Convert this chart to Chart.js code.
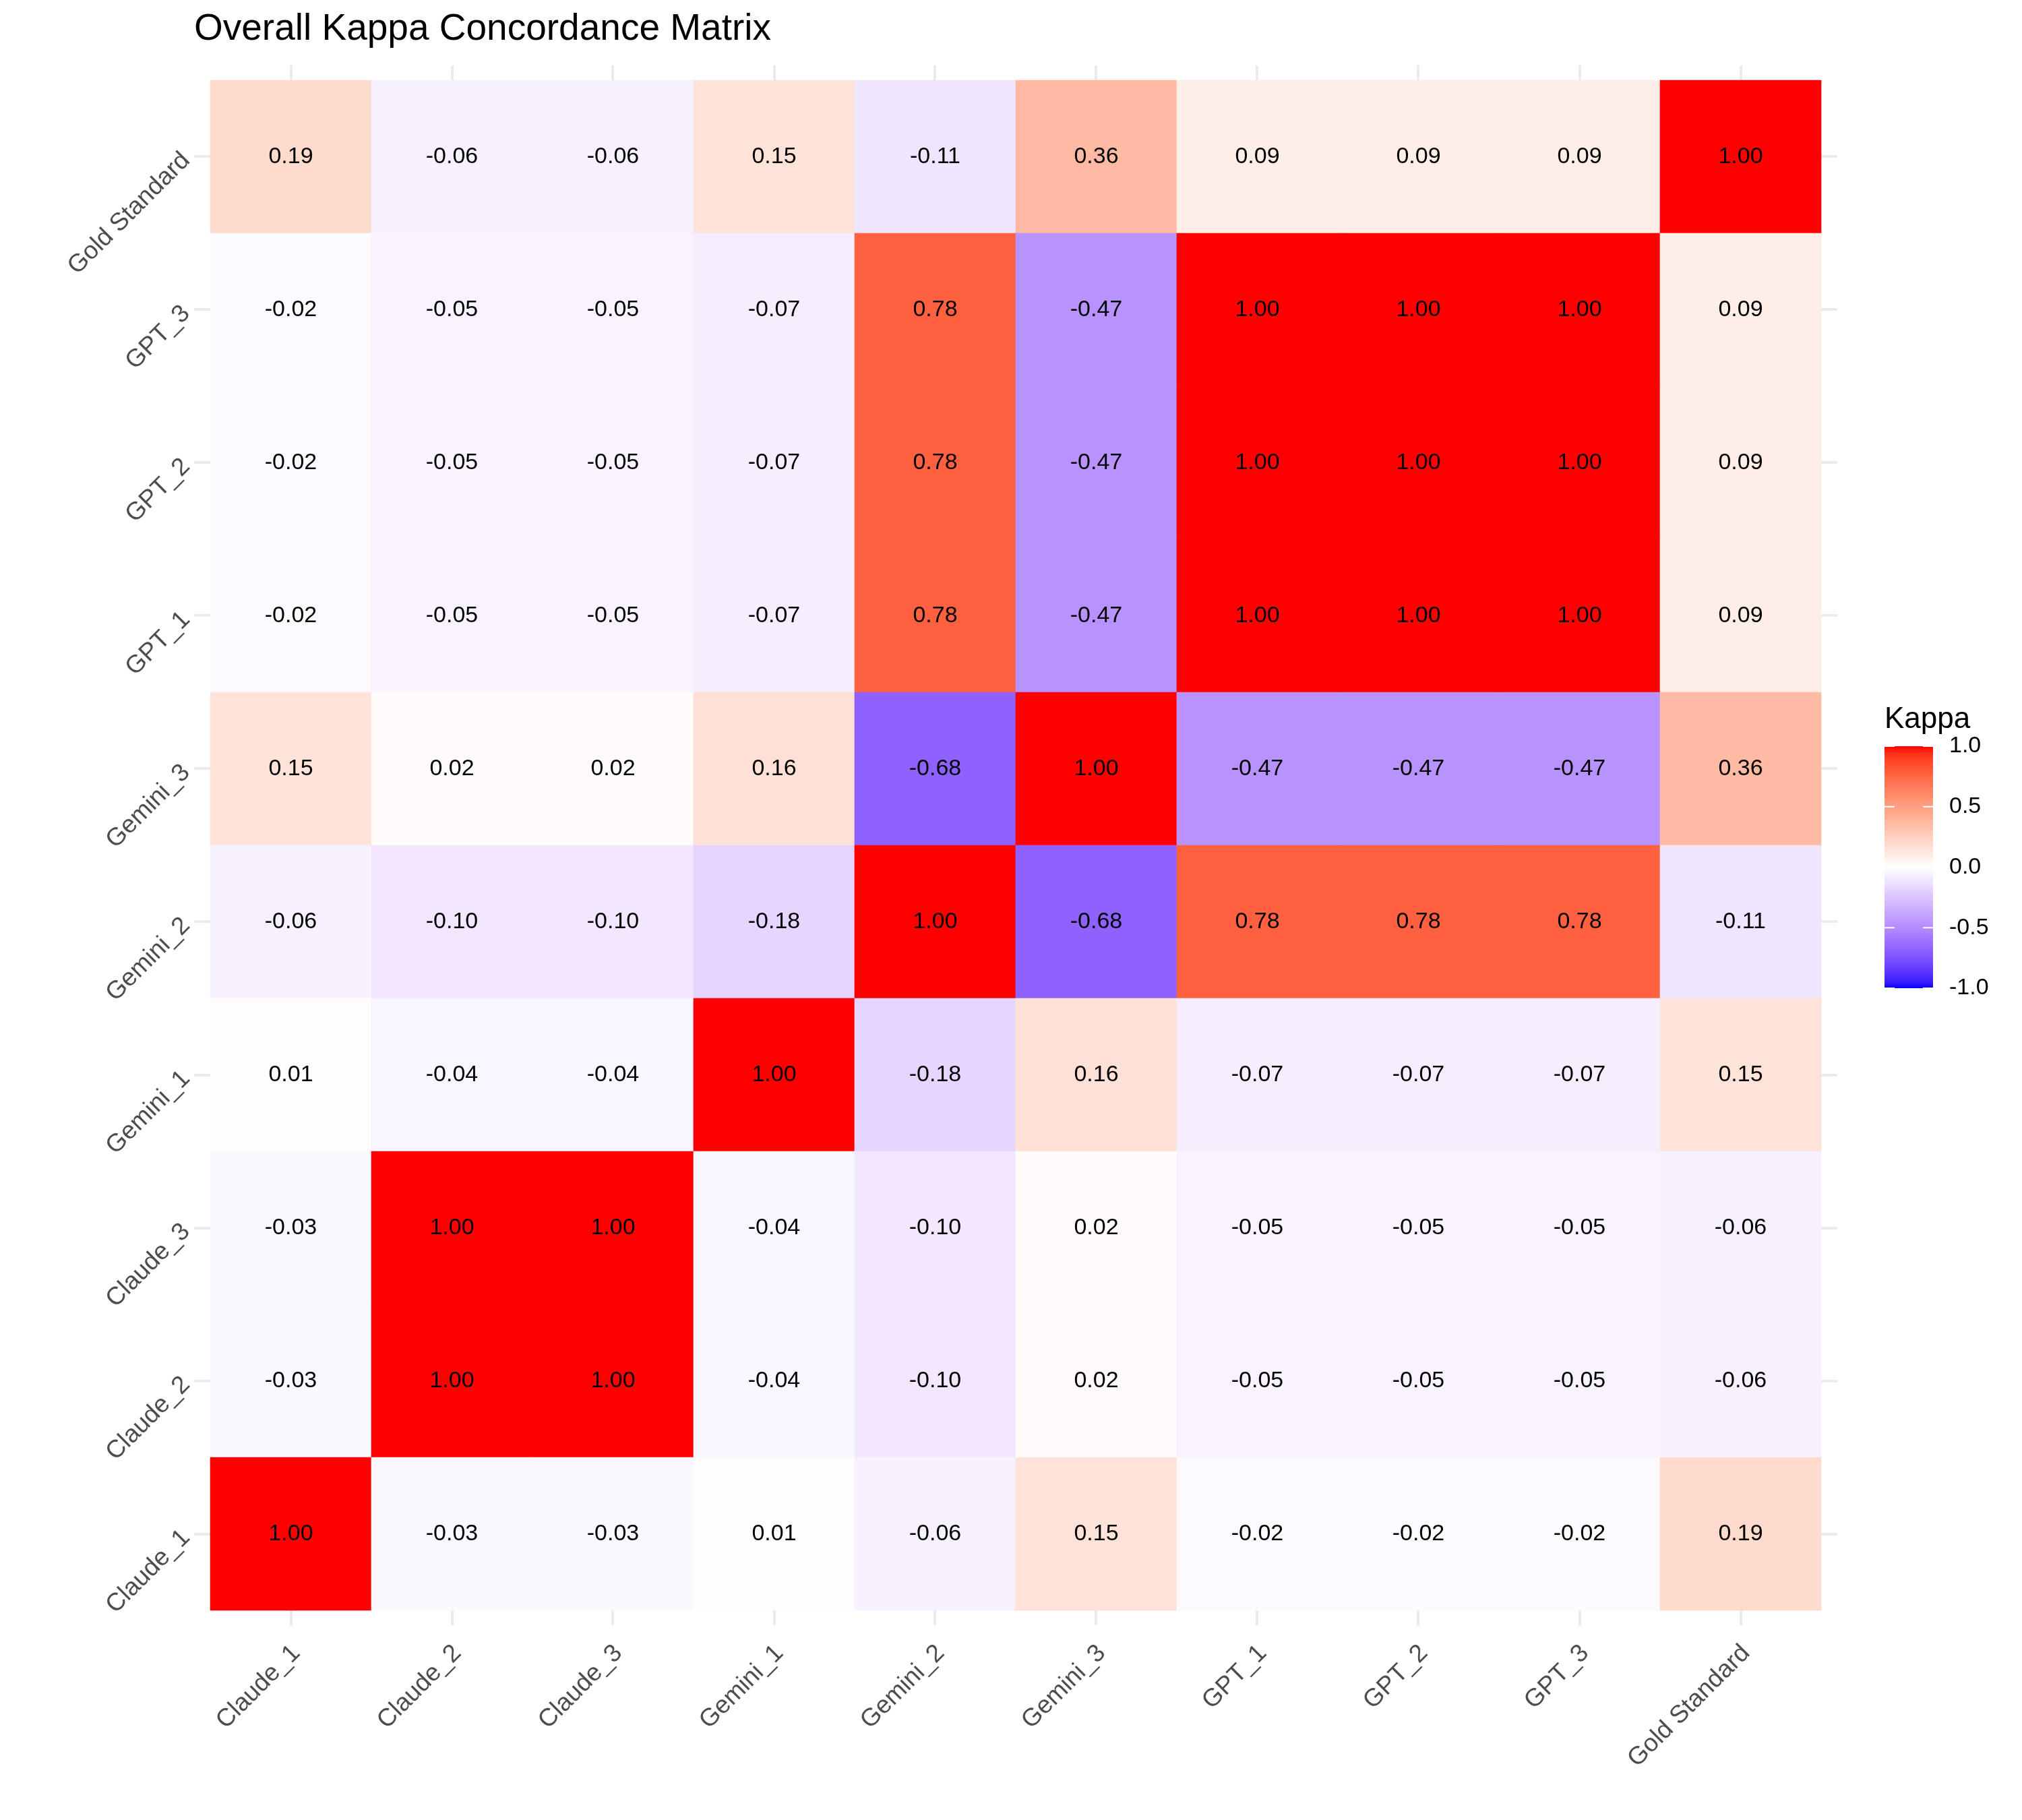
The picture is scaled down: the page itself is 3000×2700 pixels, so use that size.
<!DOCTYPE html>
<html>
<head>
<meta charset="utf-8">
<title>Overall Kappa Concordance Matrix</title>
<script src="https://cdn.jsdelivr.net/npm/chart.js@4.4.1/dist/chart.umd.min.js"></script>
<style>
  html, body { margin: 0; padding: 0; background: #fff; }
  #wrap { width: 3000px; height: 2700px; }
</style>
</head>
<body>
<div id="wrap"><canvas id="kappaChart" width="3000" height="2700"></canvas></div>
<script>
const models = [
  "Claude_1", "Claude_2", "Claude_3",
  "Gemini_1", "Gemini_2", "Gemini_3",
  "GPT_1", "GPT_2", "GPT_3",
  "Gold Standard",
];

// kappa rows, columns in the same order as models
const claude1 = [1.00, -0.03, -0.03, 0.01, -0.06, 0.15, -0.02, -0.02, -0.02, 0.19];
const claude2 = [-0.03, 1.00, 1.00, -0.04, -0.10, 0.02, -0.05, -0.05, -0.05, -0.06];
const claude3 = [-0.03, 1.00, 1.00, -0.04, -0.10, 0.02, -0.05, -0.05, -0.05, -0.06];
const gemini1 = [0.01, -0.04, -0.04, 1.00, -0.18, 0.16, -0.07, -0.07, -0.07, 0.15];
const gemini2 = [-0.06, -0.10, -0.10, -0.18, 1.00, -0.68, 0.78, 0.78, 0.78, -0.11];
const gemini3 = [0.15, 0.02, 0.02, 0.16, -0.68, 1.00, -0.47, -0.47, -0.47, 0.36];
const gpt1 = [-0.02, -0.05, -0.05, -0.07, 0.78, -0.47, 1.00, 1.00, 1.00, 0.09];
const gpt2 = [-0.02, -0.05, -0.05, -0.07, 0.78, -0.47, 1.00, 1.00, 1.00, 0.09];
const gpt3 = [-0.02, -0.05, -0.05, -0.07, 0.78, -0.47, 1.00, 1.00, 1.00, 0.09];
const goldStandard = [0.19, -0.06, -0.06, 0.15, -0.11, 0.36, 0.09, 0.09, 0.09, 1.00];

const kappaRows = [claude1, claude2, claude3, gemini1, gemini2, gemini3, gpt1, gpt2, gpt3, goldStandard];

const legendTicks = [1.0, 0.5, 0.0, -0.5, -1.0];

const FONT = "'Liberation Sans', Arial, Helvetica, sans-serif";
Chart.defaults.font.family = FONT;

//colour scale: blue - white - red, interpolated in Lab like ggplot
const toLinear = (c) => {
  c /= 255;
  return c <= 0.04045 ? c / 12.92 : Math.pow((c + 0.055) / 1.055, 2.4);
};
const fromLinear = (c) => {
  const v = c <= 0.0031308 ? 12.92 * c : 1.055 * Math.pow(c, 1 / 2.4) - 0.055;
  return Math.round(Math.min(1, Math.max(0, v)) * 255);
};
const K = 24389 / 27;
const E = 216 / 24389;

function rgbToLab([r, g, b]) {
  const R = toLinear(r), G = toLinear(g), B = toLinear(b);
  const x = (0.4124564 * R + 0.3575761 * G + 0.1804375 * B) / 0.95047;
  const y = 0.2126729 * R + 0.7151522 * G + 0.072175 * B;
  const z = (0.0193339 * R + 0.119192 * G + 0.9503041 * B) / 1.08883;
  const f = (t) => (t > E ? Math.cbrt(t) : (K * t + 16) / 116);
  const fx = f(x), fy = f(y), fz = f(z);
  return [116 * fy - 16, 500 * (fx - fy), 200 * (fy - fz)];
}

function labToRgb([L, a, bb]) {
  const fy = (L + 16) / 116;
  const fx = fy + a / 500;
  const fz = fy - bb / 200;
  const finv = (t) => (t * t * t > E ? t * t * t : (116 * t - 16) / K);
  const x = finv(fx) * 0.95047;
  const y = L > K * E ? fy * fy * fy : L / K;
  const z = finv(fz) * 1.08883;
  const R = 3.2404542 * x - 1.5371385 * y - 0.4985314 * z;
  const G = -0.969266 * x + 1.8760108 * y + 0.041556 * z;
  const B = 0.0556434 * x - 0.2040259 * y + 1.0572252 * z;
  return [fromLinear(R), fromLinear(G), fromLinear(B)];
}

const labLow = rgbToLab([0, 0, 255]);
const labMid = rgbToLab([255, 255, 255]);
const labHigh = rgbToLab([255, 0, 0]);

function kappaColor(v) {
  const t = Math.min(1, Math.abs(v));
  const end = v < 0 ? labLow : labHigh;
  const lab = labMid.map((m, i) => m + (end[i] - m) * t);
  const [r, g, b] = labToRgb(lab);
  return `rgb(${r}, ${g}, ${b})`;
}

//one floating-bar dataset per row, each bar spans one row of the y scale
const datasets = kappaRows.map((row, r) => ({
  label: models[r],
  data: row.map((v, c) => ({ x: c, y: [r - 0.5, r + 0.5] })),
  backgroundColor: row.map(kappaColor),
  borderWidth: 0,
  grouped: false,
  barPercentage: 1,
  categoryPercentage: 1,
}));

//values printed in the middle of every tile
const cellLabels = {
  id: "cellLabels",
  afterDatasetsDraw(chart) {
    const ctx = chart.ctx;
    ctx.save();
    ctx.font = "34px " + FONT;
    ctx.fillStyle = "#000000";
    ctx.textAlign = "center";
    ctx.textBaseline = "middle";
    kappaRows.forEach((row, r) => {
      chart.getDatasetMeta(r).data.forEach((bar, c) => {
        const { x, y, base } = bar.getProps(["x", "y", "base"], true);
        ctx.fillText(row[c].toFixed(2), x, (y + base) / 2);
      });
    });
    ctx.restore();
  },
};

//colourbar legend on the right
const kappaLegend = {
  id: "kappaLegend",
  afterDraw(chart) {
    const ctx = chart.ctx;
    const area = chart.chartArea;
    const mid = (area.top + area.bottom) / 2;
    const barLeft = area.right + 70;
    const barW = 72;
    const barTop = mid - 147;
    const barH = 359;
    const yFor = (v) => barTop + ((1 - v) / 2) * barH;

    ctx.save();
    ctx.fillStyle = "#000000";
    ctx.font = "44px " + FONT;
    ctx.textAlign = "left";
    ctx.textBaseline = "alphabetic";
    ctx.fillText("Kappa", barLeft, barTop - 27);

    const grad = ctx.createLinearGradient(0, barTop, 0, barTop + barH);
    for (let i = 0; i <= 40; i++) {
      const v = 1 - i / 20;
      grad.addColorStop(i / 40, kappaColor(v));
    }
    ctx.fillStyle = grad;
    ctx.fillRect(barLeft, barTop, barW, barH);

    ctx.strokeStyle = "#ffffff";
    ctx.lineWidth = 2;
    ctx.font = "34px " + FONT;
    ctx.fillStyle = "#000000";
    ctx.textBaseline = "middle";
    legendTicks.forEach((v) => {
      const y = yFor(v);
      ctx.beginPath();
      ctx.moveTo(barLeft, y);
      ctx.lineTo(barLeft + 15, y);
      ctx.moveTo(barLeft + barW - 15, y);
      ctx.lineTo(barLeft + barW, y);
      ctx.stroke();
      ctx.fillText(v.toFixed(1), barLeft + barW + 24, y);
    });
    ctx.restore();
  },
};

const integerTicks = (axis) => {
  axis.ticks = models.map((m, i) => ({ value: i }));
};

//config
const config = {
  type: "bar",
  data: { datasets },
  options: {
    responsive: false,
    animation: false,
    layout: {
      padding: { left: 0, right: 274, top: 0, bottom: 0 },
    },
    scales: {
      x: {
        type: "linear",
        offset: false,
        min: -0.5 - 24 / 239,
        max: 9.5 + 24 / 239,
        afterBuildTicks: integerTicks,
        afterFit: (axis) => {
          axis.height = 289;
        },
        grid: {
          offset: false,
          color: "#ebebeb",
          lineWidth: 4,
          drawTicks: false,
        },
        border: { display: false },
        ticks: {
          autoSkip: false,
          minRotation: 45,
          maxRotation: 45,
          padding: 20,
          labelOffset: 8,
          color: "#4d4d4d",
          font: { size: 37 },
          callback: (value) => models[value],
        },
      },
      y: {
        type: "linear",
        min: -0.5 - 22 / 227,
        max: 9.5 + 22 / 227,
        afterBuildTicks: integerTicks,
        afterFit: (axis) => {
          axis.width = 288;
        },
        grid: {
          color: "#ebebeb",
          lineWidth: 4,
          drawTicks: false,
        },
        border: { display: false },
        ticks: {
          autoSkip: false,
          minRotation: 45,
          maxRotation: 45,
          padding: 12,
          color: "#4d4d4d",
          font: { size: 37 },
          callback: (value) => models[value],
        },
      },
    },
    plugins: {
      legend: { display: false },
      tooltip: { enabled: false },
      title: {
        display: true,
        text: "Overall Kappa Concordance Matrix",
        align: "start",
        fullSize: false,
        color: "#000000",
        font: { size: 55, weight: "normal", lineHeight: 1.25 },
        padding: { top: 9, bottom: 19.25 },
      },
    },
  },
  plugins: [cellLabels, kappaLegend],
};

//create chart
const kappaChart = new Chart(document.getElementById("kappaChart"), config);
</script>
</body>
</html>
